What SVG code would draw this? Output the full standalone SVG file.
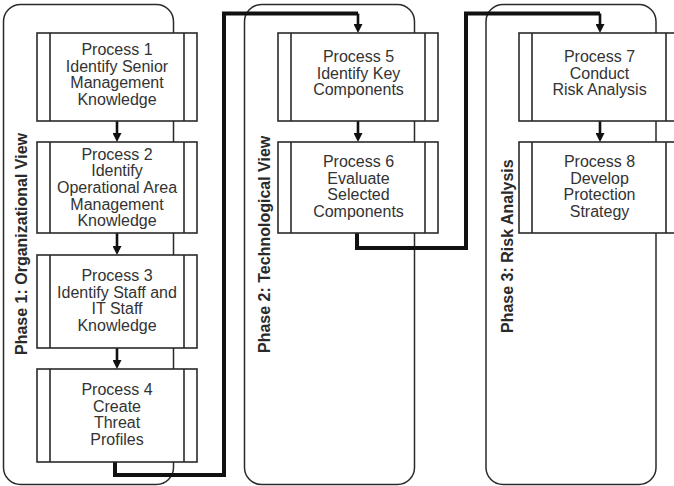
<svg xmlns="http://www.w3.org/2000/svg" width="674" height="486" viewBox="0 0 674 486">
<defs>
<marker id="ah" markerUnits="userSpaceOnUse" markerWidth="9" markerHeight="9" refX="1" refY="4.5" orient="auto">
<path d="M0,0 L9,4.5 L0,9 z" fill="#111"/>
</marker>
<style>
.phase{fill:#fff;stroke:#2a2a2a;stroke-width:1.5}
.box{fill:#fff;stroke:#2a2a2a;stroke-width:1.6}
.band{stroke:#2a2a2a;stroke-width:1.6;fill:none}
.btxt{font-family:"Liberation Sans",Arial,sans-serif;font-size:16px;fill:#333;text-anchor:middle}
.ptxt{font-family:"Liberation Sans",Arial,sans-serif;font-size:16px;font-weight:bold;fill:#2a2a2a}
.thick{fill:none;stroke:#111;stroke-width:4;stroke-linejoin:miter}
.arr{fill:none;stroke:#111;stroke-width:2.6;marker-end:url(#ah)}
</style>
</defs>
<rect width="674" height="486" fill="#fff"/>
<g id="phase1"><rect class="phase" x="3.5" y="4.5" width="170" height="480" rx="17"/>
<text class="ptxt" transform="translate(27,355) rotate(-90)">Phase 1: Organizational View</text></g>
<g id="phase2"><rect class="phase" x="244.5" y="4.5" width="170" height="480" rx="17"/>
<text class="ptxt" transform="translate(270,353) rotate(-90)">Phase 2: Technological View</text></g>
<g id="phase3"><rect class="phase" x="486" y="4.5" width="170" height="480" rx="17"/>
<text class="ptxt" transform="translate(513,333) rotate(-90)">Phase 3: Risk Analysis</text></g>
<g id="connectors">
<path class="thick" d="M115,460 V475 H224 V13.5 H358"/>
<path class="arr" d="M358,13.5 V25"/>
<path class="thick" d="M357,232 V248 H466 V13.5 H600"/>
<path class="arr" d="M600,13.5 V25"/>
<path class="arr" d="M117,121 V134"/>
<path class="arr" d="M117,233 V247"/>
<path class="arr" d="M117,348 V361"/>
<path class="arr" d="M358,121 V134"/>
<path class="arr" d="M600,121 V134"/>
</g>
<g id="p1"><rect class="box" x="37" y="33" width="160" height="88"/><path class="band" d="M50,33 V121 M184,33 V121"/>
<text class="btxt" x="117" y="55">Process 1<tspan x="117" dy="16.7">Identify Senior</tspan><tspan x="117" dy="16.7">Management</tspan><tspan x="117" dy="16.7">Knowledge</tspan></text></g>
<g id="p2"><rect class="box" x="37" y="142" width="160" height="91"/><path class="band" d="M50,142 V233 M184,142 V233"/>
<text class="btxt" x="117" y="159.5">Process 2<tspan x="117" dy="16.7">Identify</tspan><tspan x="117" dy="16.7">Operational Area</tspan><tspan x="117" dy="16.7">Management</tspan><tspan x="117" dy="16.7">Knowledge</tspan></text></g>
<g id="p3"><rect class="box" x="37" y="255" width="160" height="93"/><path class="band" d="M50,255 V348 M184,255 V348"/>
<text class="btxt" x="117" y="281">Process 3<tspan x="117" dy="16.7">Identify Staff and</tspan><tspan x="117" dy="16.7">IT Staff</tspan><tspan x="117" dy="16.7">Knowledge</tspan></text></g>
<g id="p4"><rect class="box" x="37" y="369" width="160" height="93"/><path class="band" d="M50,369 V462 M184,369 V462"/>
<text class="btxt" x="117" y="395">Process 4<tspan x="117" dy="16.7">Create</tspan><tspan x="117" dy="16.7">Threat</tspan><tspan x="117" dy="16.7">Profiles</tspan></text></g>
<g id="p5"><rect class="box" x="278" y="33" width="160" height="88"/><path class="band" d="M291,33 V121 M425,33 V121"/>
<text class="btxt" x="358.5" y="62">Process 5<tspan x="358.5" dy="16.7">Identify Key</tspan><tspan x="358.5" dy="16.7">Components</tspan></text></g>
<g id="p6"><rect class="box" x="278" y="142" width="160" height="91"/><path class="band" d="M291,142 V233 M425,142 V233"/>
<text class="btxt" x="358.5" y="167">Process 6<tspan x="358.5" dy="16.7">Evaluate</tspan><tspan x="358.5" dy="16.7">Selected</tspan><tspan x="358.5" dy="16.7">Components</tspan></text></g>
<g id="p7"><rect class="box" x="519" y="33" width="160" height="88"/><path class="band" d="M532,33 V121 M666,33 V121"/>
<text class="btxt" x="599.5" y="62">Process 7<tspan x="599.5" dy="16.7">Conduct</tspan><tspan x="599.5" dy="16.7">Risk Analysis</tspan></text></g>
<g id="p8"><rect class="box" x="519" y="142" width="160" height="91"/><path class="band" d="M532,142 V233 M666,142 V233"/>
<text class="btxt" x="599.5" y="167">Process 8<tspan x="599.5" dy="16.7">Develop</tspan><tspan x="599.5" dy="16.7">Protection</tspan><tspan x="599.5" dy="16.7">Strategy</tspan></text></g>
</svg>
